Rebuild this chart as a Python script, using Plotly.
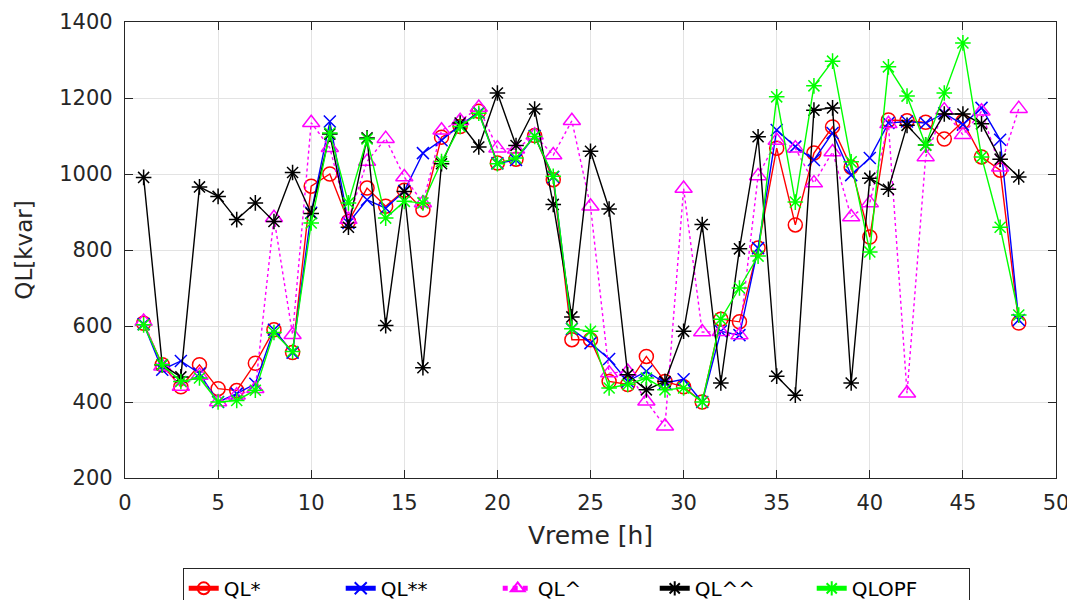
import plotly.graph_objects as go

hours = list(range(1, 49))

ql_star = [607, 498, 440, 498, 435, 430, 502, 590, 530, 968,
           1000, 875, 963, 915, 957, 906, 1097, 1125, 1165, 1029,
           1039, 1101, 985, 564, 564, 454, 446, 520, 454, 440,
           400, 618, 611, 805, 1068, 866, 1055, 1124, 1018, 834,
           1142, 1140, 1136, 1092, 1138, 1045, 1010, 608]

ql_2star = [605, 485, 508, 475, 400, 422, 448, 590, 530, 898,
            1138, 871, 932, 910, 955, 1055, 1089, 1128, 1162, 1028,
            1037, 1100, 992, 592, 555, 513, 454, 481, 450, 460,
            400, 586, 576, 805, 1116, 1072, 1037, 1108, 997, 1042,
            1134, 1138, 1134, 1160, 1130, 1174, 1090, 616]

ql_hat = [612, 494, 441, 470, 400, 418, 435, 885, 577, 1135,
          1069, 880, 1033, 1093, 992, 924, 1115, 1140, 1175, 1068,
          1065, 1102, 1050, 1140, 915, 476, 480, 402, 336, 962,
          584, 585, 576, 995, 1088, 1068, 976, 1058, 887, 924,
          1132, 423, 1045, 1168, 1103, 1165, 1018, 1172]

ql_2hat = [991, 498, 466, 966, 941, 880, 924, 875, 1004, 896,
           1105, 860, 1095, 601, 954, 490, 1027, 1134, 1071, 1213,
           1075, 1171, 920, 624, 1060, 908, 472, 432, 454, 586,
           867, 450, 803, 1098, 468, 418, 1168, 1174, 450, 989,
           960, 1128, 1076, 1158, 1158, 1132, 1039, 992]

ql_opf = [603, 498, 454, 463, 400, 404, 431, 583, 533, 871,
          1108, 924, 1092, 884, 928, 924, 1033, 1125, 1160, 1027,
          1042, 1099, 994, 593, 586, 437, 446, 463, 432, 437,
          400, 618, 700, 784, 1203, 926, 1232, 1297, 1032, 795,
          1282, 1205, 1076, 1213, 1345, 1045, 860, 629]

series = [
    ("QL*", ql_star, "#ff0000", "circle-open", "solid", 14),
    ("QL**", ql_2star, "#0000ff", "x-thin-open", "solid", 12),
    ("QL^", ql_hat, "#ff00ff", "triangle-up-open", "dot", 15),
    ("QL^^", ql_2hat, "#000000", "asterisk-open", "solid", 13),
    ("QLOPF", ql_opf, "#00ff00", "asterisk-open", "solid", 13),
]

FONT = "DejaVu Sans, Liberation Sans, Arial, sans-serif"
TXT = "#262626"

fig = go.Figure()
for name, vals, color, sym, dash, size in series:
    fig.add_trace(go.Scatter(
        x=hours, y=vals, name=name, mode="lines+markers",
        line=dict(color=color, width=1.4, dash=dash),
        marker=dict(symbol=sym, size=size, color=color,
                    line=dict(color=color, width=1.5)),
    ))

axis_common = dict(
    showline=True, linecolor=TXT, linewidth=1.3, mirror="ticks",
    ticks="inside", ticklen=8, tickcolor=TXT, tickwidth=1.3,
    showgrid=True, gridcolor="#e3e3e3", gridwidth=1, zeroline=False,
    automargin=False,
    tickfont=dict(family=FONT, size=21, color=TXT),
)

# page body adds an 8px margin, so the figure is sized to fit the 1075x600 window
fig.update_layout(
    width=1067, height=592,
    paper_bgcolor="white", plot_bgcolor="white",
    margin=dict(l=117, r=19, t=14, b=122, autoexpand=False),
    xaxis=dict(range=[0, 50], dtick=5, tick0=0, ticklabelstandoff=6,
               title=dict(text="Vreme [h]", font=dict(family=FONT, size=25, color=TXT), standoff=12),
               **axis_common),
    yaxis=dict(range=[200, 1400], dtick=200, tick0=200, ticklabelstandoff=7,
               title=dict(text="QL[kvar]", font=dict(family=FONT, size=23, color=TXT), standoff=20),
               **axis_common),
    legend=dict(orientation="h", x=0.062, xanchor="left", y=-0.197, yanchor="top",
                bgcolor="white", bordercolor=TXT, borderwidth=1,
                font=dict(family=FONT, size=20, color="#000000"),
                entrywidth=112, entrywidthmode="pixels",
                itemsizing="constant"),
    showlegend=True,
)

fig.write_html("out.html")
